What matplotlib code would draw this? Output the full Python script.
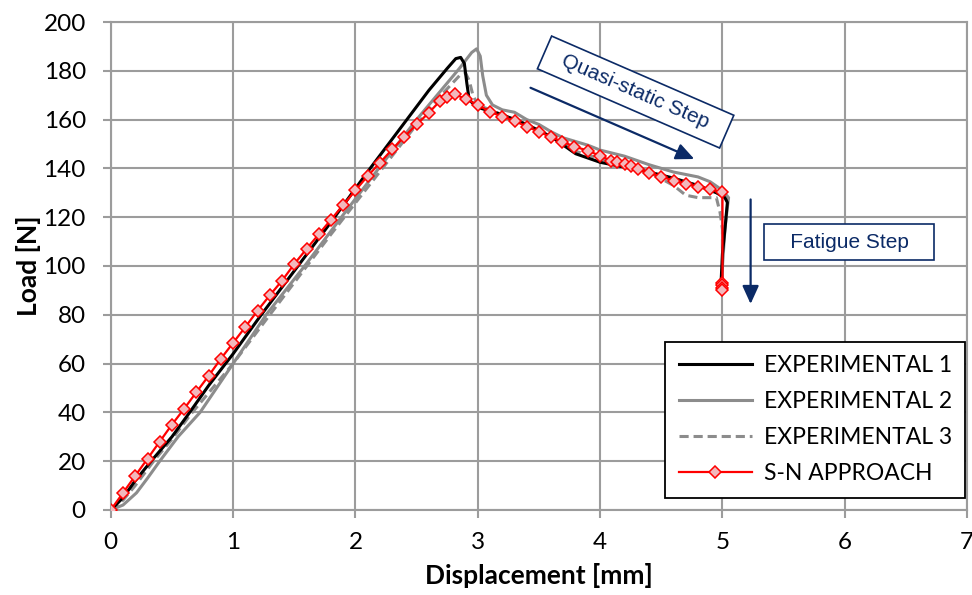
import matplotlib
matplotlib.use("Agg")
from matplotlib import pyplot as plt

plt.rcParams['font.family'] = ['Lato', 'DejaVu Sans']

# Experimental 1 (black)
exp1_x = [0, 0.1, 0.2, 0.33, 0.5, 0.645, 0.8, 1.0, 1.23, 1.5, 1.8, 2.12, 2.42,
          2.6, 2.75, 2.82, 2.86, 2.89, 2.91, 2.93, 3.0, 3.2, 3.4, 3.6, 3.8, 4.0,
          4.2, 4.4, 4.6, 4.8, 4.95, 5.02, 5.04, 5.02, 5.0, 4.99, 4.99]
exp1_y = [0, 5, 12, 20, 30, 40, 51, 64, 80, 98, 118, 140, 160,
          172, 181, 185, 185.5, 183, 175, 168, 165, 162, 158, 153, 146, 142.5,
          140.5, 138.5, 136, 133, 130, 128, 126, 115, 105, 95, 92]

# Experimental 2 (grey)
exp2_x = [0, 0.1, 0.21, 0.3, 0.4, 0.55, 0.73, 1.0, 1.27, 1.6, 1.9, 2.19, 2.5,
          2.7, 2.85, 2.95, 2.99, 3.02, 3.04, 3.07, 3.12, 3.2, 3.3, 3.4, 3.5,
          3.6, 3.7, 3.8, 3.9, 4.0, 4.2, 4.4, 4.6, 4.7, 4.8, 4.9, 5.0, 5.05,
          5.04, 5.02, 5.0, 5.0]
exp2_y = [0, 2, 7, 13, 20, 30, 40, 60, 80, 101, 121, 140, 160,
          172, 181, 187.5, 189, 186, 178, 170, 166, 164, 163, 160, 158,
          155, 152.5, 151, 149.5, 147.5, 145, 141.5, 138.5, 137.5, 136.5, 134.5, 131, 128,
          124, 115, 100, 92]

# Experimental 3 (grey dashed)
exp3_x = [0, 0.1, 0.2, 0.35, 0.5, 0.65, 1.0, 1.3, 1.8, 2.22, 2.5, 2.7, 2.85,
          2.9, 2.93, 2.96, 3.0, 3.2, 3.4, 3.6, 3.8, 4.0, 4.2, 4.4, 4.6, 4.7,
          4.8, 4.95, 4.98, 5.0, 5.0]
exp3_y = [0, 4, 10, 20, 29, 39, 60, 80, 113, 140, 158, 170, 178,
          179, 176, 170, 166, 162, 158, 153, 147, 144, 141, 138.5, 133, 129,
          128, 128, 122, 115, 95]

# S-N approach (red, diamonds)
sn_x = [0, 0.1, 0.2, 0.3, 0.4, 0.5, 0.6, 0.7, 0.8, 0.9, 1.0, 1.1, 1.2, 1.3,
        1.4, 1.5, 1.6, 1.7, 1.8, 1.9, 2.0, 2.1, 2.2, 2.3, 2.4, 2.5, 2.6, 2.69,
        2.75, 2.81, 2.9, 3.0, 3.1, 3.2, 3.3, 3.4, 3.5, 3.6, 3.69, 3.79, 3.9,
        4.0, 4.09, 4.14, 4.2, 4.25, 4.31, 4.4, 4.5, 4.6, 4.7, 4.8, 4.9, 5.0,
        5.0, 5.0, 5.0, 5.0]
sn_y = [0, 7, 14, 21, 28, 35, 41.5, 48.3, 55, 62, 68.5, 75, 81.7, 88,
        94, 100.8, 107, 113, 119, 125, 131, 136.9, 142.3, 147.8, 153, 158, 162.8, 167.6,
        169.4, 170.4, 168.5, 166, 163.2, 161.2, 159.5, 157.1, 155, 152.8, 151, 148.9, 147.3,
        145.1, 143.2, 142.5, 141.7, 141, 139.6, 138.2, 136.6, 135, 133.6, 132.5, 131.4, 130.2,
        93, 92, 91, 90]

navy = '#0B2A66'
grid_c = '#9C9C9C'

fig = plt.figure(figsize=(9.72, 5.95), dpi=100)
ax = fig.add_axes([0.114, 0.143, 0.881, 0.820])

ax.plot(exp1_x, exp1_y, color='black', lw=2.2, label='EXPERIMENTAL 1', zorder=4)
ax.plot(exp2_x, exp2_y, color='#8C8C8C', lw=2.2, label='EXPERIMENTAL 2', zorder=3)
ax.plot(exp3_x, exp3_y, color='#8C8C8C', lw=2.2, ls=(0, (3, 1.6)),
        label='EXPERIMENTAL 3', zorder=3)
ax.plot(sn_x, sn_y, color='#FF0000', lw=1.6, marker='D', markersize=6.5,
        markerfacecolor='#F2B8BC', markeredgecolor='#FF0000', markeredgewidth=1.1,
        label='S-N APPROACH', zorder=5)

ax.set_xlim(0, 7)
ax.set_ylim(0, 200)
ax.set_xticks(range(0, 8))
ax.set_yticks(range(0, 201, 20))
ax.grid(True, color=grid_c, lw=1.5)
ax.set_axisbelow(True)
for s in ax.spines.values():
    s.set_color(grid_c)
    s.set_linewidth(1.5)
ax.tick_params(direction='out', length=6, width=1.5, color=grid_c, labelsize=17.5)
ax.tick_params(axis='x', pad=10)
ax.tick_params(axis='y', pad=12)

ax.set_xlabel('Displacement [mm]', fontsize=19, fontweight='bold', labelpad=7)
ax.set_ylabel('Load [N]', fontsize=19, fontweight='bold', labelpad=2)

leg = ax.legend(loc='lower right', bbox_to_anchor=(0.998, 0.025), fontsize=16.5,
                frameon=True, fancybox=False, edgecolor='black', framealpha=1,
                borderpad=0.6, labelspacing=0.65, handlelength=3.2,
                handletextpad=0.5, borderaxespad=0)
leg.get_frame().set_linewidth(1.3)

# annotations
ax.text(4.29, 171.3, '  Quasi-static Step  ', rotation=-23.5, rotation_mode='anchor',
        ha='center', va='center', fontsize=15, color=navy, family='Liberation Sans',
        bbox=dict(boxstyle='square,pad=0.4', fc='white', ec=navy, lw=1.2), zorder=6)
ax.annotate('', xy=(4.79, 143.4), xytext=(3.41, 173.5),
            arrowprops=dict(arrowstyle='-|>,head_length=1.1,head_width=0.5',
                            color=navy, lw=1.6), zorder=6)
ax.text(6.035, 109.8, '   Fatigue Step   ', ha='center', va='center', fontsize=15,
        color=navy, family='Liberation Sans',
        bbox=dict(boxstyle='square,pad=0.4', fc='white', ec=navy, lw=1.2), zorder=6)
ax.annotate('', xy=(5.23, 83.3), xytext=(5.23, 128.4),
            arrowprops=dict(arrowstyle='-|>,head_length=1.1,head_width=0.5',
                            color=navy, lw=1.6), zorder=6)

fig.savefig('out.png', dpi=100)
